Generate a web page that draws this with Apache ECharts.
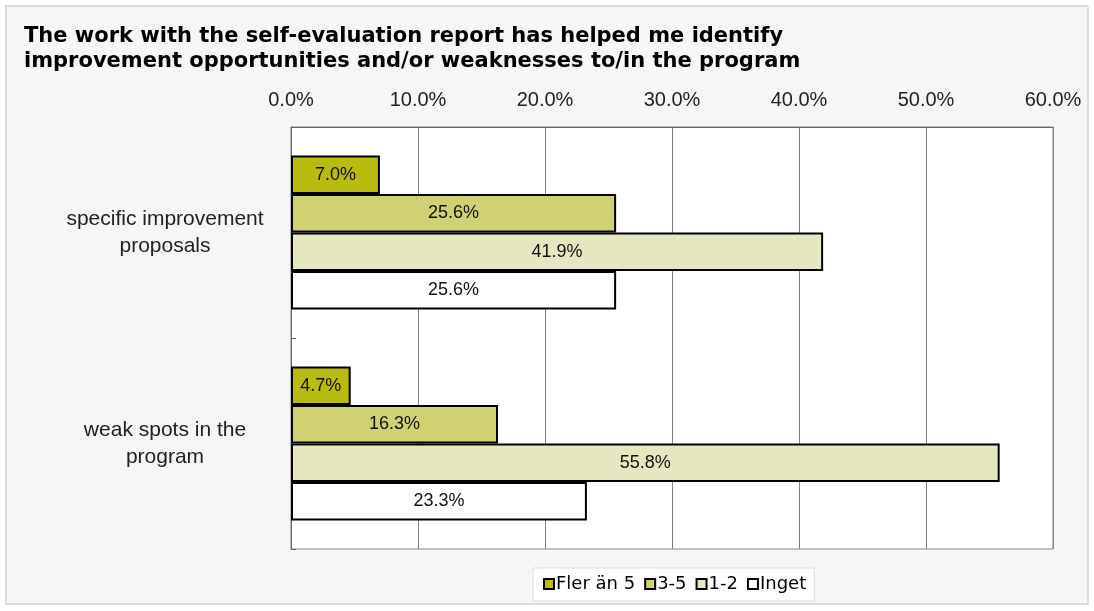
<!DOCTYPE html>
<html>
<head>
<meta charset="utf-8">
<script src="https://cdn.jsdelivr.net/npm/echarts@6/dist/echarts.min.js"></script>
<style>
html,body{margin:0;padding:0;background:#fff;}
#chart{width:1094px;height:611px;}
</style>
</head>
<body>
<div id="chart"></div>
<script>
const categories = ['specific improvement\nproposals', 'weak spots in the\nprogram'];
const seriesNames = ['Fler än 5', '3-5', '1-2', 'Inget'];
const flerAn5 = [7.0, 4.7];
const tre5 = [25.6, 16.3];
const ett2 = [41.9, 55.8];
const inget = [25.6, 23.3];
const colors = ['#b8bc10', '#cfd173', '#e4e7bf', '#ffffff'];
const values = [flerAn5, tre5, ett2, inget];

const chart = echarts.init(document.getElementById('chart'));
chart.setOption({
  animation: false,
  backgroundColor: '#ffffff',
  graphic: [{
    type: 'rect', z: -10, silent: true,
    shape: {x: 6, y: 6, width: 1082, height: 598},
    style: {fill: '#f6f6f6', stroke: '#dcdcdc', lineWidth: 2}
  }],
  title: {
    text: 'The work with the self-evaluation report has helped me identify\nimprovement opportunities and/or weaknesses to/in the program',
    left: 19, top: 19,
    textStyle: {fontFamily: 'DejaVu Sans', fontWeight: 'bold', fontSize: 21, color: '#000', lineHeight: 25}
  },
  legend: {
    top: 568, left: 533,
    data: seriesNames,
    icon: 'rect', itemWidth: 10, itemHeight: 10, itemGap: 9,
    backgroundColor: '#ffffff', borderColor: '#dddddd', borderWidth: 1,
    padding: [7, 8, 8, 10],
    itemStyle: {borderColor: '#000', borderWidth: 2},
    textStyle: {fontFamily: 'DejaVu Sans', fontSize: 18, color: '#000', padding: [0, 0, 0, -3]}
  },
  grid: {
    left: 291, right: 41, top: 127, bottom: 62,
    show: true, backgroundColor: '#ffffff', borderColor: '#888888', borderWidth: 1
  },
  xAxis: {
    type: 'value', position: 'top', min: 0, max: 60, interval: 10,
    axisLine: {show: true, lineStyle: {color: '#666'}},
    axisTick: {show: false},
    axisLabel: {formatter: v => v.toFixed(1) + '%', fontFamily: 'Liberation Sans, Arial', fontSize: 20, color: '#222', margin: 17},
    splitLine: {show: true, lineStyle: {color: '#808080', width: 1}}
  },
  yAxis: {
    type: 'category', data: categories, inverse: true,
    axisLine: {show: true, lineStyle: {color: '#666'}},
    axisTick: {show: true, inside: true, length: 5, lineStyle: {color: '#666'}},
    axisLabel: {fontFamily: 'Liberation Sans, Arial', fontSize: 21, color: '#222', margin: 126, align: 'center', lineHeight: 27},
    splitLine: {show: false}
  },
  series: seriesNames.map((name, i) => ({
    name: name,
    type: 'bar',
    data: values[i],
    barGap: '0%',
    barCategoryGap: '27%',
    itemStyle: {color: colors[i], borderColor: '#000', borderWidth: 2},
    label: {show: true, position: 'inside', formatter: p => p.value.toFixed(1) + '%',
      fontFamily: 'Liberation Sans, Arial', fontSize: 18, color: '#111'}
  }))
});
</script>
</body>
</html>
